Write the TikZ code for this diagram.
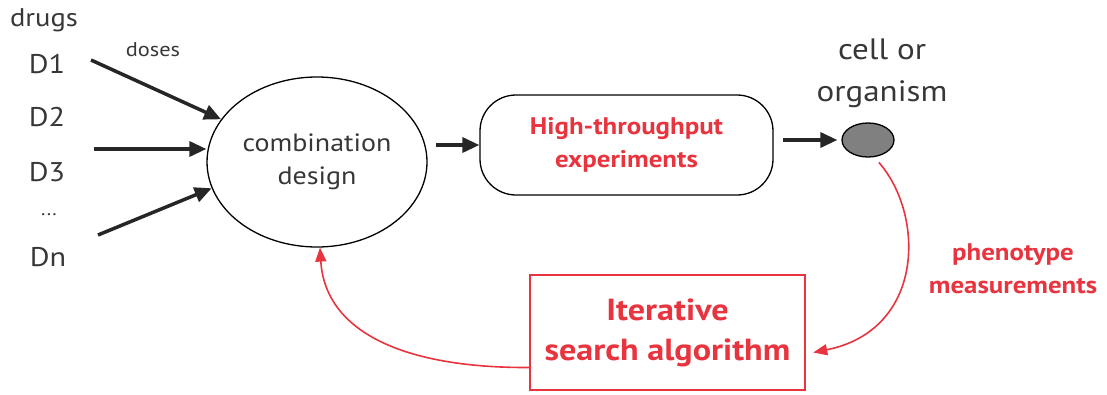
\documentclass[tikz,border=0pt]{standalone}
\usepackage{fontspec}
\setmainfont{PT Sans}[FakeStretch=1.12]
\usetikzlibrary{arrows.meta,shapes.geometric}
\definecolor{txtgray}{RGB}{55,55,55}
\definecolor{loopred}{RGB}{232,52,62}

\begin{document}
\begin{tikzpicture}[x=1pt,y=-1pt,
  every node/.style={text=txtgray},
  blackarrow/.style={-{Triangle[length=17pt,width=15pt]},line width=3.5pt,draw=black!85},
  redarrow/.style={-{Triangle[length=14pt,width=11pt]},line width=1.6pt,draw=loopred},
  redtext/.style={text=loopred,font=\bfseries\fontsize{24}{33}\selectfont,align=center}]

\useasboundingbox (0,0) rectangle (1107,394);

% Drugs
\node[font=\fontsize{25.5}{30}\selectfont] (drugs) at (44,20) {drugs};
\node[font=\fontsize{27}{32}\selectfont] (d1) at (47,64) {D1};
\node[font=\fontsize{27}{32}\selectfont] (d2) at (47,117) {D2};
\node[font=\fontsize{27}{32}\selectfont] (d3) at (47,172) {D3};
\node[font=\fontsize{18}{20}\selectfont] (dots) at (49,215) {...};
\node[font=\fontsize{27}{32}\selectfont] (dn) at (48,257) {Dn};
\node[font=\fontsize{20}{22}\selectfont] (doses) at (153,50) {doses};

% Nodes
\node[draw,ellipse,line width=1.3pt,minimum width=200pt,minimum height=170pt,
  align=center,font=\fontsize{25}{33}\selectfont] (design) at (317,162) {combination\\design};
\node[draw,rounded corners=36pt,line width=1.3pt,minimum width=293pt,minimum height=100pt,
  redtext] (hts) at (626.5,145) {High-throughput\\experiments};
\node[draw,ellipse,fill=black!50,line width=1.3pt,minimum width=52pt,minimum height=34pt] (cell) at (868,140) {};
\node[align=center,font=\fontsize{29.5}{42}\selectfont] (celltxt) at (882,73) {cell or\\organism};
\node[draw=loopred,line width=2.5pt,minimum width=275pt,minimum height=115pt,
  redtext,font=\bfseries\fontsize{30.5}{40}\selectfont] (search) at (667.5,332.5) {Iterative\\search algorithm};
\node[redtext] (pheno) at (1013,269) {phenotype\\measurements};

% Dose arrows
\coordinate (s1) at (91,60);
\coordinate (s2) at (94,149);
\coordinate (s3) at (98,235);
\draw[blackarrow] (s1) -- (design.156);
\draw[blackarrow] (s2) -- (s2 -| design.west);
\draw[blackarrow] (s3) -- (design.194);

% Pipeline
\draw[blackarrow] ([xshift=8pt]design.east |- hts.west) -- (hts.west);
\draw[blackarrow] (hts.east |- cell.west) ++(9pt,0) coordinate (h1) -- ([xshift=-4pt]cell.west);

% Feedback loop
\draw[redarrow,shorten <=7pt] (cell.290) .. controls (925,215) and (925,330) .. ([xshift=7pt,yshift=-20pt]search.east);
\draw[redarrow] ([yshift=-35pt]search.west) .. controls (400,368) and (325,330) .. (design.272);

\end{tikzpicture}
\end{document}
